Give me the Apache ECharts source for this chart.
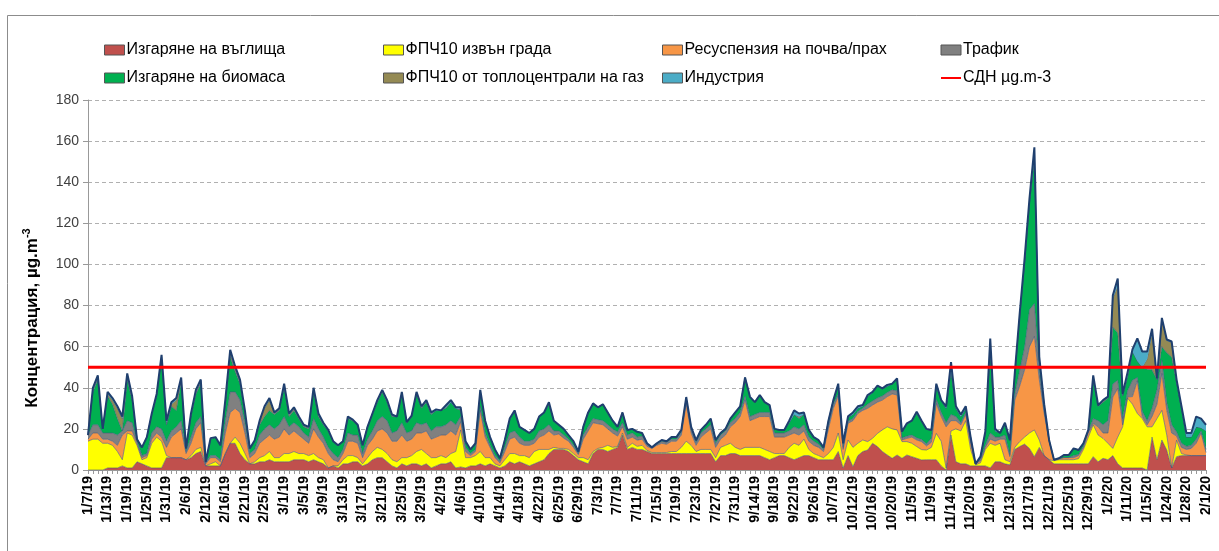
<!DOCTYPE html>
<html>
<head>
<meta charset="utf-8">
<script src="https://cdn.jsdelivr.net/npm/echarts@6/dist/echarts.min.js"></script>
<style>
  html, body { margin: 0; padding: 0; background: #fff; }
  #main { width: 1219px; height: 551px; }
</style>
</head>
<body>
<div id="main"></div>
<script>
// подписи по оста X (всяка 4-та проба)
var tickLabels = ['1/7/19', '1/13/19', '1/19/19', '1/25/19', '1/31/19', '2/6/19', '2/12/19', '2/16/19', '2/21/19', '2/25/19',
  '3/1/19', '3/5/19', '3/9/19', '3/13/19', '3/17/19', '3/21/19', '3/25/19', '3/29/19', '4/2/19', '4/6/19',
  '4/10/19', '4/14/19', '4/18/19', '4/22/19', '6/25/19', '6/29/19', '7/3/19', '7/7/19', '7/11/19', '7/15/19',
  '7/19/19', '7/23/19', '7/27/19', '7/31/19', '9/14/19', '9/18/19', '9/22/19', '9/26/19', '10/7/19', '10/12/19',
  '10/16/19', '10/20/19', '11/5/19', '11/9/19', '11/14/19', '11/20/19', '12/9/19', '12/13/19', '12/17/19', '12/21/19',
  '12/25/19', '12/29/19', '1/2/20', '1/11/20', '1/15/20', '1/24/20', '1/28/20', '2/1/20'];

var seriesNames = ['Изгаряне на въглища', 'ФПЧ10 извън града', 'Ресуспензия на почва/прах', 'Трафик',
  'Изгаряне на биомаса', 'ФПЧ10 от топлоцентрали на газ', 'Индустрия'];
var limitName = 'СДН µg.m-3';
var limitValue = 50;

var coal = [0,0,0,0,1,1,1,2,1,1,
  4,3,2,1,1,1,6,6,6,6,
  5,6,8,9,2,2,2,2,8,13,
  13,8,5,3,3,4,4,5,4,4,
  4,4,5,5,5,4,5,4,3,1,
  2,1,3,3,4,4,2,3,5,6,
  6,4,2,1,3,2,3,3,2,3,
  1,2,3,3,4,1,1.5,1,2,2,
  3,2,3,2,1,2,4,3,4,3,
  2,3,4,5,8,10,10,10,9,7,
  5,4,3,8,10,10,9,10,11,17,
  10,11,10,10,9,8,8,8,8,8,
  8,8,8,8,8,8,8,8,4,7,
  7,8,8,7,7,7,7,7,6,5,
  6,7,7,6,5,6,7,7,6,5,
  5,5,5,9,1,7,1.6,7,9,9.7,
  13,11.4,9,7.3,5.7,7.3,5.7,7.3,6.5,5.7,
  4.9,5,5,5,2,0,17,4,3,3,
  2,2,2,2,1,4,4,3,2.5,10,
  11.4,12.6,10.5,6.5,11,7,5,3,3,3,
  3,3,3,3,3,6.5,4,5.7,5,7,
  3,1,1,1,1,1,0,16,5,14.6,
  9.7,1,6.5,7,7,7,7,7,7];

var outside = [14,15,15,13,12,11,8,3,17,16,
  8,2,4,12,15,13,1,0,0,0,
  0,1,2,2,0,1,2,0,0,0,
  3,5,3,0,1,2,3,4,2,2,
  4,4,4,3,3,3,3,2,2,0,
  0,1,2,4,3,2,1,3,4,5,
  4,4,3,3,3,4,4,6,8,5,
  5,4,4,3,4,8,18,5,4,5,
  6,4,3,1,1,3,4,5,3,4,
  4,6,6,5,2,1,0.5,0.5,1,1,
  1,2,2,1,0.5,1,3,1,0.5,1,
  1,2,1.5,2,0.5,0.5,0.5,0.5,0.5,1,
  1,3,6,4,1,2,2,2,2,4,
  5,5,3,3,4,4,4,4,4,4,
  2,1,1,5,8,6,8,3,2,2,
  1,3,6,9,4,7.6,9.4,6,5.6,4.1,
  2.4,6.4,10.5,13.7,14.3,12.2,8.1,6.5,6.5,5.7,
  5,4.7,6,12.8,12,1,2,16,16,21,
  8,0.5,1.5,8,12,8,9,2,1.5,1,
  2.4,3.4,7.5,13,3.6,0,0,1.5,2,2,
  2,2,2.5,7,13,15.5,13,9.7,8,3.5,
  13,20,34,31,26.5,24,21,5,20,14.4,
  7.3,0,8,1,0.3,0,0,0,0];

var dust = [1,3,3,2,2,2,3,12,1,2,
  1,1,1,2,2,2,4,10,12,14,
  3,6,10,12,1,3,2,2,10,15,
  14,15,10,3,4,7,8,8,9,10,
  12,9,10,9,7,6,12,10,8,7,
  3,2,3,7,7,7,3,6,6,8,
  10,10,9,10,11,8,8,9,8,11,
  9,10,10,11,11,8,4,3,1,2,
  20,10,5,3,1.5,4,7,8,6,5,
  6,4,6,7,9,6,7,5,4,3,
  1.5,9,14,14,12,11,8,7,5,3,
  4,3,3,3,2,2,3.5,4.5,4,5,
  5,6,18,6,3,6,8,10,5,4,
  5,8,12,16,23,13,14,15,16,17,
  8,8,8,6,5,5,4,4,4,4,
  3,12,19,18,5,8.1,13,14.5,14.4,16.2,
  16.2,15.2,14.5,14.7,17,17,0.8,1.6,3,3.2,
  3.9,2,2.5,14.6,12,20,5,4,3,3,
  3,0.5,1,1,2,2,2,10,2.5,23,
  27,32.7,42,45.5,29.4,20.5,9,0.5,0.5,1,
  1,1,1.5,1,2,0.7,4,2.6,5,25,
  23.7,1,0.5,3.7,16,1,1,5,7,18,
  12,17,2,3,2.7,3.5,6,11,1.5];

var traffic = [2,4,4,3,3,4,5,2,5,4,
  1,1,1,3,3,4,3,3,3,4,
  1,3,3,3,0.5,1,1,1,6,10,
  8,6,5,2,2,4,5,5,5,6,
  6,4,4,4,3,3,5,4,3,3,
  3,2,2,4,3,4,2,3,4,5,
  6,6,4,5,6,4,4,5,4,4,
  4,5,4,5,5,5,2.5,2,1,1,
  2,2,1,1,1,2,3,3,3,2,
  2,2,3,3,3,2,1.5,1.5,1,1,
  0.5,2,2,2,2,2,2,2,2,2,
  2,2,1.5,1.5,1,0.5,0.5,1,1,1,
  1,1.5,2,2,1.5,2,2,2,2,2,
  2,2,2,2,2,2,2,2,2,2,
  2,2,2,2,3,3,3,2,2,1.5,
  1,2,2,1,1,1,1,1,1,2,
  2,2,2,2,2,2,1,1,1,1,
  1,1,2,2,2,2,3,2,1,1,
  1,0,1,1,3,2,1,2,1,3,
  7.7,11,18,16,4.6,1.5,0.3,0,0,0,
  0,1,0.5,0.5,1,2.3,3,4,6,6.3,
  4,3,3,8,1.5,2.5,2,4,7,6.5,
  4,4,2,2,1.5,1.5,2,1,1.5];

var biomass = [0,16,22,2,18,14,8,0,20,11,
  1,4,8,9,15,34,8,12,8,19,
  1.5,10,14,16,0.5,8,9,7,8,17,
  10,8,4,2.5,4,5,6,7,7,7,
  14,5,6,4,3,4,13,6,6,8,
  6,6,4,7,7,5,4,6,8,9,
  12,9,8,7,14,5,7,14,8,10,
  8,8,8,8,9,8,3,2.5,2,3,
  7,5.5,4,3,1.2,3.6,6.5,9.5,5,5.5,
  4,5,7,8,10,5,3,3,2,2,
  1,4,7,7,6,8,6,4,2.5,5,
  2.5,2,2.6,1.5,0.5,0,0.5,0.6,0.5,1,
  1,1,1,1,1,1.5,2,3,1.6,1,
  1,2,3,3,9,9.6,6,8.5,5,3.6,
  2,1.5,1.5,4,6,5,5,3.5,2,2,
  1,2,2,4,2,2,2,1.5,1,4,
  4,6,3.5,3,3,5.6,3,6,7,12,
  9,7,4,6,6,7,21,4,3,2,
  2,0,1,6,40,3,2,5,7,9,
  26,41,52,70,5,2.5,0.3,0,0.2,1.3,
  1.3,3.5,2.2,1.5,0.5,19,7,11,11,27.7,
  23,11,7,14,8,21.5,25,18.7,5,6.5,
  24,33,24,17,4.5,4,6,1.5,9];

var gasPlants = [0,1,1,0,1,2,5,6,2,1,
  0,0,0,0,0.5,1,1,1,5,1,
  0,1,1,1,0,0,0,0,1,2,
  1.5,1,1,0,0.5,2,4,5,0.5,0.5,
  1,1,1,0.5,0.5,0.5,1,1,0.5,0,
  0,0,0,0.5,0.5,0,0,0,0.5,0.5,
  0.5,0.5,0.5,0,0.5,0.3,0,0.5,0.5,0.5,
  0.5,0,0,0.5,0,0,0.5,0,0,0,
  0,0,0,0,0,0,0,0,0,0,
  0,0,0,0,0,0,0,0,0,0,
  0,0,0,0,0,0,0,0,0,0,
  0,0,0,0,0,0,0,0,0,0,
  0,0,0,0,0,0,0,0,0,0,
  0,0,0,0,0,0,0,0,0,0,
  0,0,0,0,0,1,0,0,0,0,
  0,0,0,0,0,0,0,0,0,0,
  0,0,0,0,0,0,0,0,0,0,
  0,0,0,1,0,0,1,0,0,0,
  0,0,0,0,0,0,0,0,0,0,
  0.5,0,0,2,0,0,0,0,0,0,
  0,0,0,0,0,0,0.5,1,0.7,14,
  23,0.5,0,0,0,0,5,18,0,13,
  6,7,0,0,0,0,0,0,0];

var industry = [0,1,1,0,1,1,1,1,1,1,
  0,0,0,0.5,0.5,1,1,1,1,1,
  0,0.5,1,1,0,0.5,0,0,1,1.5,
  1,1,1,0,0,0,1,1,0.5,0.5,
  1,0.5,0.5,0.5,0.5,0.5,1,0.5,0.5,0.5,
  0,0,0,0.5,0,0,0,0,0,0.5,
  0.5,0.5,0.5,0,0.5,0,0.5,0.5,0.5,0.5,
  0.5,0.5,0,1,1,0.5,1,0.5,0,0,
  1,0.5,0,0,0,0,0.5,0.5,0,0,
  0,0,0,0,1,0,0,0,0,0,
  0,0,0,0.4,0,0,0,0,0,0,
  0,0,0,0,0,0,0,0,0,0,
  0,0,0.5,0,0,0,0,0,0,0,
  0,0,0,0,0,0,0,0,0,0,
  0,0,0,1,2,1.5,1,0,0,0,
  0,0,0,1,0,0.4,1,1,0.6,0.5,
  0.4,0,0.2,0.7,0,0.5,0.1,0.3,0,0.8,
  0.2,0.3,0,0.6,0,1,3.5,1,1,1,
  0,0,0,0.7,6,1,0,1,0,1,
  1,2,2,4,1.5,0.5,0,0,0,0,
  0,0,0,0,0,2,0,0,0,1.5,
  3.5,0.5,2,1,11,7.6,3.6,2,0.6,1,
  0.5,0.5,1.5,1,2,2,5,4.5,3];

var seriesData = [coal, outside, dust, traffic, biomass, gasPlants, industry];
var seriesColors = ['#C0504D', '#FFFF00', '#F79646', '#808080', '#00B050', '#948A54', '#4BACC6'];

// категории: подпис на всяка 4-та точка, останалите празни
var categories = [];
for (var k = 0; k < tickLabels.length; k++) {
  categories.push(tickLabels[k]);
  if (k < tickLabels.length - 1) categories.push('', '', '');
}
var limitLine = categories.map(function () { return limitValue; });

var chart = echarts.init(document.getElementById('main'), null, { renderer: 'canvas' });

var series = seriesNames.map(function (name, idx) {
  var isTop = idx === seriesNames.length - 1;
  return {
    name: name,
    type: 'line',
    stack: 'total',
    symbol: 'none',
    color: seriesColors[idx],
    data: seriesData[idx],
    lineStyle: isTop ? { width: 2, color: '#1F3F6E' } : { width: 0.8, color: 'rgba(60,85,125,0.7)' },
    areaStyle: { color: seriesColors[idx], opacity: 1 },
    z: 2 + (isTop ? 1 : 0)
  };
});
series.push({
  name: limitName,
  type: 'line',
  symbol: 'none',
  color: '#FF0000',
  data: limitLine,
  lineStyle: { width: 3, color: '#FF0000' },
  z: 5
});

function legendCol(items, left) {
  return {
    orient: 'vertical',
    left: left,
    top: 37,
    itemWidth: 20,
    itemHeight: 10,
    itemGap: 12,
    selectedMode: false,
    textStyle: { fontSize: 16, color: '#000', fontFamily: 'Liberation Sans', lineHeight: 15, padding: [0, 0, 0, -3] },
    data: items.map(function (n) {
      if (n === limitName) return { name: n, itemStyle: { opacity: 0 } };
      return { name: n, icon: 'rect', itemStyle: { borderColor: '#555', borderWidth: 1 } };
    })
  };
}

var option = {
  animation: false,
  backgroundColor: '#fff',
  textStyle: { fontFamily: 'Liberation Sans' },
  legend: [
    legendCol([seriesNames[0], seriesNames[4]], 99),
    legendCol([seriesNames[1], seriesNames[5]], 378),
    legendCol([seriesNames[2], seriesNames[6]], 657),
    legendCol([seriesNames[3], limitName], 935)
  ],
  grid: { left: 88, right: 13, top: 100, bottom: 81 },
  xAxis: {
    type: 'category',
    data: categories,
    boundaryGap: false,
    axisLine: { lineStyle: { color: '#999' } },
    axisTick: { show: true, interval: 0, length: 4, lineStyle: { color: '#999' } },
    axisLabel: {
      interval: 3,
      rotate: 90,
      fontSize: 14,
      fontWeight: 'bold',
      color: '#000',
      margin: 6
    }
  },
  yAxis: {
    type: 'value',
    min: 0,
    max: 180,
    interval: 20,
    axisLine: { show: true, lineStyle: { color: '#999' } },
    axisTick: { show: true, length: 5, lineStyle: { color: '#999' } },
    axisLabel: { fontSize: 14, color: '#404040', margin: 9 },
    splitLine: { lineStyle: { type: [4, 3], color: '#b0b0b0' } }
  },
  graphic: [
    {
      type: 'rect',
      silent: true,
      shape: { x: 7.5, y: 15.5, width: 1240, height: 560 },
      style: { fill: 'none', stroke: '#8c8c8c', lineWidth: 1 }
    },
    {
      type: 'text',
      silent: true,
      x: 32,
      y: 318,
      rotation: Math.PI / 2,
      style: {
        text: '{a|Концентрация, µg.m}{b|-3}',
        align: 'center',
        verticalAlign: 'middle',
        rich: {
          a: { fontSize: 17, fontWeight: 'bold', fill: '#000', fontFamily: 'Liberation Sans' },
          b: { fontSize: 11, fontWeight: 'bold', fill: '#000', fontFamily: 'Liberation Sans', padding: [0, 0, 10, 0] }
        }
      }
    }
  ],
  series: series
};

chart.setOption(option);
</script>
</body>
</html>
